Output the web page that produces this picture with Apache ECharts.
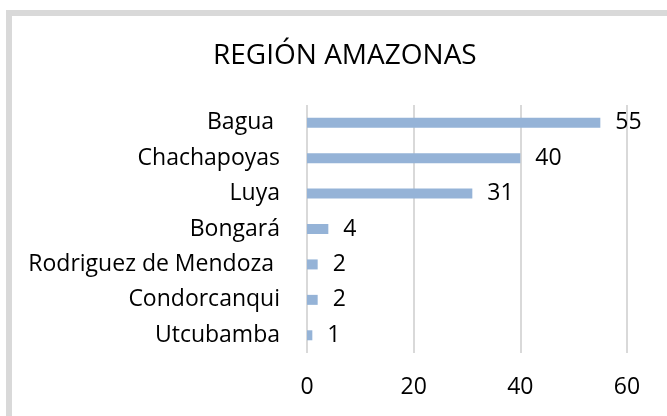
<!DOCTYPE html>
<html>
<head>
<meta charset="utf-8">
<script src="https://cdn.jsdelivr.net/npm/echarts@6/dist/echarts.min.js"></script>
<style>
  html, body { margin: 0; padding: 0; background: #fff; }
  #chart { width: 667px; height: 416px; }
</style>
</head>
<body>
<div id="chart"></div>
<script>
// datos de la región (de abajo hacia arriba, como los dibuja el eje de categorías)
var provincias = ["Utcubamba", "Condorcanqui", "Rodriguez de Mendoza ", "Bongará", "Luya", "Chachapoyas", "Bagua "];
var cantidades = [1, 2, 2, 4, 31, 40, 55];
var ticksX = [0, 20, 40, 60];

var fuente = "'Open Sans', sans-serif";
var chart = echarts.init(document.getElementById("chart"), null, { renderer: "canvas" });

chart.setOption({
    animation: false,
    title: {
        text: "REGIÓN AMAZONAS",
        left: 208,
        top: 37,
        textStyle: { fontFamily: fuente, fontSize: 28, fontWeight: "normal", color: "#000" }
    },
    // marco gris del gráfico
    graphic: [
        {
            type: "rect",
            shape: { x: 9, y: 13, width: 720, height: 480 },
            style: { fill: "none", stroke: "#d9d9d9", lineWidth: 6 },
            silent: true
        }
    ],
    grid: { left: 307, right: 40, top: 105, bottom: 63 },
    xAxis: {
        type: "value",
        min: ticksX[0],
        max: ticksX[ticksX.length - 1],
        interval: 20,
        axisLine: { show: false },
        axisTick: { show: false },
        axisLabel: { fontFamily: fuente, fontSize: 23, color: "#000", margin: 23 },
        splitLine: { lineStyle: { color: "#d9d9d9", width: 2 } }
    },
    yAxis: {
        type: "category",
        data: provincias,
        axisLine: { show: false },
        axisTick: { show: false },
        axisLabel: { fontFamily: fuente, fontSize: 23, color: "#000", margin: 27 }
    },
    series: [
        {
            type: "bar",
            data: cantidades,
            barWidth: 10,
            itemStyle: { color: "#95b3d7" },
            label: {
                show: true,
                position: "right",
                distance: 15,
                fontFamily: fuente,
                fontSize: 23,
                color: "#000"
            }
        }
    ]
});
</script>
</body>
</html>
